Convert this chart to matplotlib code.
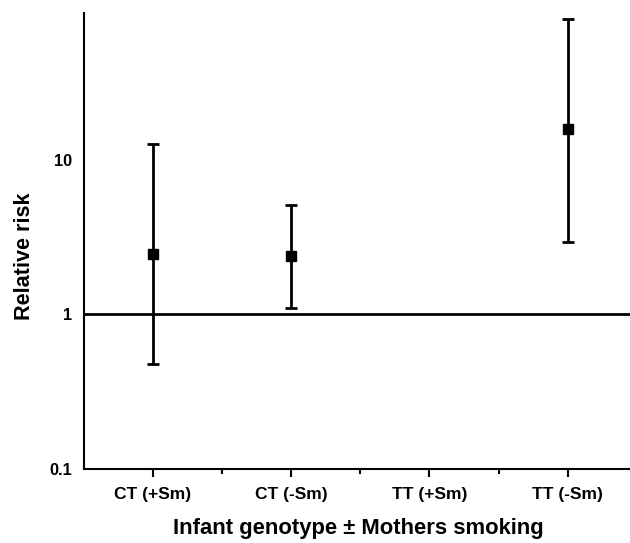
import numpy as np
import matplotlib
matplotlib.use("Agg")
import matplotlib.pyplot as plt

categories = ["CT (+Sm)", "CT (-Sm)", "TT (+Sm)", "TT (-Sm)"]
relative_risk = [2.46, 2.39, np.nan, 15.9]
ci_lower = [0.478, 1.10, np.nan, 2.96]
ci_upper = [12.6, 5.07, np.nan, 81.8]
ytick_values = [0.1, 1, 10]
ytick_labels = ["0.1", "1", "10"]

plt.rcParams['font.family'] = ['Liberation Sans', 'DejaVu Sans']
plt.rcParams['font.weight'] = 'bold'

W, H, DPI = 630, 543, 100
fig = plt.figure(figsize=(W / DPI, H / DPI), dpi=DPI)
left = 83.5 / W
bottom = (H - 469.0) / H
top = (H - 12.7) / H
ax = fig.add_axes([left, bottom, 1.0 - left, top - bottom])

x = np.arange(1, len(categories) + 1)
rr = np.array(relative_risk, dtype=float)
lo = np.array(ci_lower, dtype=float)
hi = np.array(ci_upper, dtype=float)
mask = ~np.isnan(rr)

ax.axhline(1, color='black', lw=2.0, zorder=2)
ax.errorbar(x[mask], rr[mask], yerr=[rr[mask] - lo[mask], hi[mask] - rr[mask]],
            fmt='s', color='black', ms=7.2, elinewidth=2.0, capsize=4.3,
            capthick=2.0, zorder=3)

ax.set_yscale('log')
ax.set_ylim(0.1, 89.5)
ax.set_xlim(0.5, 4.45)

ax.set_yticks(ytick_values)
ax.set_yticklabels(ytick_labels)
ax.yaxis.set_minor_locator(matplotlib.ticker.NullLocator())
ax.tick_params(axis='y', length=0, pad=8.5, labelsize=11.8)

ax.set_xticks(x)
ax.set_xticklabels(categories)
ax.set_xticks([1.5, 2.5, 3.5], minor=True)
ax.tick_params(axis='x', which='major', length=5.8, width=1.5, pad=7, labelsize=12.5)
ax.tick_params(axis='x', which='minor', length=3.6, width=1.5)

for s in ['top', 'right']:
    ax.spines[s].set_visible(False)
for s in ['left', 'bottom']:
    ax.spines[s].set_linewidth(1.5)

ax.set_xlabel("Infant genotype \u00b1 Mothers smoking", fontsize=15.8, fontweight='bold')
ax.xaxis.set_label_coords(0.503, -0.107)
fig.text(25 / W, 1 - 256 / H, "Relative risk", rotation=90, ha='center', va='center',
         fontsize=15.6, fontweight='bold')

fig.savefig("out.png", dpi=DPI)
